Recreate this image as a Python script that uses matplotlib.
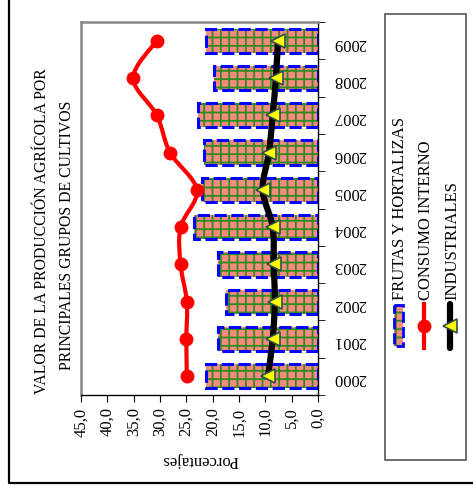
import numpy as np
import matplotlib
matplotlib.use('Agg')
import matplotlib.pyplot as plt
from matplotlib.path import Path
from matplotlib.patches import PathPatch, Rectangle
from matplotlib.lines import Line2D

plt.rcParams['font.family'] = ['Liberation Serif', 'DejaVu Serif']
plt.rcParams['hatch.linewidth'] = 1.3

years = ['2000', '2001', '2002', '2003', '2004', '2005', '2006', '2007', '2008', '2009']
frutas = [21.2, 18.9, 17.4, 18.9, 23.5, 22.1, 21.7, 22.7, 19.8, 21.2]
consumo = [24.9, 25.0, 24.9, 26.1, 26.1, 23.0, 28.1, 30.6, 35.1, 30.6]
industriales = [9.5, 8.6, 8.2, 8.4, 8.6, 10.5, 9.3, 8.6, 8.0, 7.6]
xticks = [0, 5, 10, 15, 20, 25, 30, 35, 40, 45]

W, H = 473, 499


def smooth_path(xs, ys):
    # excel-like smoothed line: bezier through the points
    pts = np.column_stack([xs, ys])
    verts = [pts[0]]
    codes = [Path.MOVETO]
    n = len(pts)
    for i in range(n - 1):
        p0 = pts[max(i - 1, 0)]
        p1 = pts[i]
        p2 = pts[i + 1]
        p3 = pts[min(i + 2, n - 1)]
        c1 = p1 + (p2 - p0) / 6.0
        c2 = p2 - (p3 - p1) / 6.0
        verts += [c1, c2, p2]
        codes += [Path.CURVE4] * 3
    return Path(verts, codes)


fig = plt.figure(figsize=(W / 100, H / 100), dpi=100)

# frame lines + legend box, in pixel coords
bg = fig.add_axes([0, 0, 1, 1])
bg.set_xlim(0, W)
bg.set_ylim(H, 0)
bg.axis('off')
bg.plot([9, 9, W], [0, 483, 483], color='black', lw=1.6)
bg.add_patch(Rectangle((385, 14), 81, 446, fill=False, edgecolor='#555555', lw=1.2))

ax = fig.add_axes([81 / W, (H - 395) / H, 237 / W, 373 / H])
pos = np.arange(len(years))

ax.barh(pos, frutas, height=0.65, color='#f88a7e', edgecolor='#2e8b22', hatch='||--', lw=0, zorder=2)
ax.barh(pos, frutas, height=0.65, fill=False, edgecolor='#0000ff', lw=2.2,
        linestyle=(0, (4, 1.5)), zorder=3)

ax.add_patch(PathPatch(smooth_path(consumo, pos), fill=False, edgecolor='#ff0000', lw=3, zorder=4))
ax.plot(consumo, pos, linestyle='none', marker='o', ms=9, color='#ff0000', zorder=5)

ax.add_patch(PathPatch(smooth_path(industriales, pos), fill=False, edgecolor='black', lw=4.5, zorder=6))
ax.plot(industriales, pos, linestyle='none', marker='<', ms=10, markerfacecolor='#ffff00',
        markeredgecolor='#2f4f4f', markeredgewidth=1.2, zorder=7)

ax.set_xlim(45, 0)
ax.set_ylim(-0.5, len(years) - 0.5)

ax.set_xticks(xticks)
ax.set_xticklabels([f'{v:.1f}'.replace('.', ',') for v in xticks], rotation=90, fontsize=12)
ax.tick_params(axis='x', direction='out', length=5, pad=4)

ax.yaxis.tick_right()
ax.set_yticks(pos)
ax.set_yticklabels(years, rotation=180, fontsize=12)
ax.set_yticks(np.arange(-0.5, len(years)), minor=True)
ax.tick_params(axis='y', which='major', length=0, pad=11)
ax.tick_params(axis='y', which='minor', direction='out', length=5)

for s in ['top', 'left']:
    ax.spines[s].set_color('#888888')
    ax.spines[s].set_linewidth(1.8)
for s in ['right', 'bottom']:
    ax.spines[s].set_color('black')
    ax.spines[s].set_linewidth(1)

fig.text(200 / W, 1 - 460 / H, 'Porcentajes', rotation=180, ha='center', va='center', fontsize=12)

fig.text(42 / W, 1 - 231 / H, 'VALOR DE LA PRODUCCIÓN AGRÍCOLA POR', rotation=90,
         ha='center', va='center', fontsize=11.3)
fig.text(67 / W, 1 - 235 / H, 'PRINCIPALES GRUPOS DE CULTIVOS', rotation=90,
         ha='center', va='center', fontsize=11.3)

# legend, drawn by hand (rotated)
bg.add_patch(Rectangle((394, 305), 9, 41, facecolor='#f88a7e', edgecolor='#2e8b22', hatch='||--', lw=0))
bg.add_patch(Rectangle((394, 305), 9, 41, fill=False, edgecolor='#0000ff', lw=2,
                       linestyle=(0, (4, 1.5))))
bg.add_line(Line2D([424, 424], [304, 348], color='#ff0000', lw=3))
bg.plot([424], [326], marker='o', ms=9, color='#ff0000')
bg.add_line(Line2D([450, 450], [304, 348], color='black', lw=4.5, solid_capstyle='round'))
bg.plot([450], [326], marker='<', ms=10, markerfacecolor='#ffff00',
        markeredgecolor='#2f4f4f', markeredgewidth=1.2)

for xx, lab in [(400, 'FRUTAS Y HORTALIZAS'), (426, 'CONSUMO INTERNO'), (452, 'INDUSTRIALES')]:
    fig.text(xx / W, 1 - 300 / H, lab, rotation=90, ha='center', va='bottom', fontsize=12)

fig.savefig('out.png', dpi=100)
